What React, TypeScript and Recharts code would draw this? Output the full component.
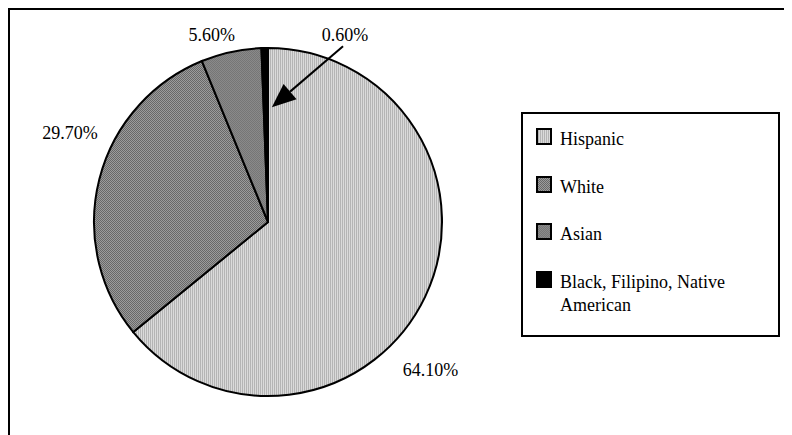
import React from "react";
import { PieChart, Pie, Cell, Legend } from "recharts";

const categories = ["Hispanic", "White", "Asian", "Black, Filipino, Native American"];
const shares = [64.1, 29.7, 5.6, 0.6];
const fills = ["url(#patHispanic)", "url(#patWhite)", "url(#patAsian)", "#000000"];

// label layout tweaks (angle shift in degrees, extra radius in px)
const labelAngleShift = [-17, -10, 4.5, -23.5];
const labelRadiusExtra = [46, 43, 21, 28];

const data = categories.map((name, i) => ({ name, value: shares[i] }));

const RAD = Math.PI / 180;
const FONT = "'Liberation Serif', 'Times New Roman', serif";

function renderLabel(props: any) {
  const { cx, cy, midAngle, outerRadius, index, value } = props;
  const a = midAngle + labelAngleShift[index];
  const r = outerRadius + labelRadiusExtra[index];
  const x = cx + r * Math.cos(-a * RAD);
  const y = cy + r * Math.sin(-a * RAD);
  const text = (
    <text
      x={x}
      y={y}
      textAnchor="middle"
      dominantBaseline="central"
      fontFamily={FONT}
      fontSize={18}
      fill="#000"
    >
      {Number(value).toFixed(2) + "%"}
    </text>
  );
  if (index !== 3) return <g key={"lab" + index}>{text}</g>;
  // arrow from label to slice
  const sx = x - 2;
  const sy = y + 11;
  const ta = midAngle - 3;
  const tr = outerRadius * 0.66;
  const tx = cx + tr * Math.cos(-ta * RAD);
  const ty = cy + tr * Math.sin(-ta * RAD);
  const dx = tx - sx;
  const dy = ty - sy;
  const len = Math.sqrt(dx * dx + dy * dy);
  const ux = dx / len;
  const uy = dy / len;
  const headLen = 24;
  const headW = 10;
  const bx = tx - ux * headLen;
  const by = ty - uy * headLen;
  const p1 = `${tx},${ty}`;
  const p2 = `${bx - uy * headW},${by + ux * headW}`;
  const p3 = `${bx + uy * headW},${by - ux * headW}`;
  return (
    <g key={"lab" + index}>
      {text}
      <line x1={sx} y1={sy} x2={bx} y2={by} stroke="#000" strokeWidth={2} />
      <polygon points={`${p1} ${p2} ${p3}`} fill="#000" />
    </g>
  );
}

function LegendBox(props: any) {
  const payload = [...(props.payload || [])].sort(
    (a: any, b: any) => categories.indexOf(a.value) - categories.indexOf(b.value)
  );
  return (
    <div
      style={{
        boxSizing: "border-box",
        width: 259,
        height: 225,
        border: "2px solid #000",
        background: "#fff",
        padding: "14px 0 0 13px",
        fontFamily: FONT,
        fontSize: 18,
        lineHeight: "23px",
        color: "#000",
        textAlign: "left",
      }}
    >
      {payload.map((entry: any, i: number) => {
        const idx = categories.indexOf(entry.value);
        const f = fills[idx >= 0 ? idx : i];
        return (
          <div
            key={i}
            style={{ display: "flex", alignItems: "flex-start", marginBottom: 24.5 }}
          >
            <svg width={16} height={17} style={{ flex: "none", marginTop: 0 }}>
              <rect x={1} y={1} width={14} height={15} fill={f} stroke="#000" strokeWidth={2} />
            </svg>
            <span style={{ marginLeft: 8, width: 200 }}>{entry.value}</span>
          </div>
        );
      })}
    </div>
  );
}

export default function App() {
  return (
    <div
      style={{
        position: "relative",
        width: 784,
        height: 427,
        boxSizing: "border-box",
        borderTop: "2px solid #000",
        borderLeft: "2px solid #000",
        background: "#fff",
      }}
    >
      <PieChart width={782} height={425} margin={{ top: 0, right: 0, bottom: 0, left: 0 }}>
        <defs>
          <pattern id="patHispanic" width={2} height={2} patternUnits="userSpaceOnUse">
            <rect x={0} y={0} width={1} height={2} fill="#b4b4b4" />
            <rect x={1} y={0} width={1} height={2} fill="#dadada" />
          </pattern>
          <pattern id="patWhite" width={2} height={2} patternUnits="userSpaceOnUse">
            <rect x={0} y={0} width={2} height={2} fill="#9c9c9c" />
            <rect x={0} y={0} width={1} height={1} fill="#686868" />
            <rect x={1} y={1} width={1} height={1} fill="#686868" />
          </pattern>
          <pattern id="patAsian" width={2} height={2} patternUnits="userSpaceOnUse">
            <rect x={0} y={0} width={2} height={2} fill="#8a8a8a" />
            <rect x={0} y={0} width={1} height={1} fill="#767676" />
            <rect x={1} y={1} width={1} height={1} fill="#767676" />
          </pattern>
        </defs>
        <Pie
          data={data}
          dataKey="value"
          nameKey="name"
          cx={258}
          cy={212}
          outerRadius={174}
          startAngle={90}
          endAngle={-270}
          stroke="#000"
          strokeWidth={2}
          label={renderLabel}
          labelLine={false}
          isAnimationActive={false}
        >
          {data.map((d, i) => (
            <Cell key={d.name} fill={fills[i]} />
          ))}
        </Pie>
        <Legend
          content={<LegendBox />}
          layout="vertical"
          align="right"
          verticalAlign="top"
          wrapperStyle={{ position: "absolute", left: 511, top: 102, width: 259, height: 225 }}
        />
      </PieChart>
    </div>
  );
}
